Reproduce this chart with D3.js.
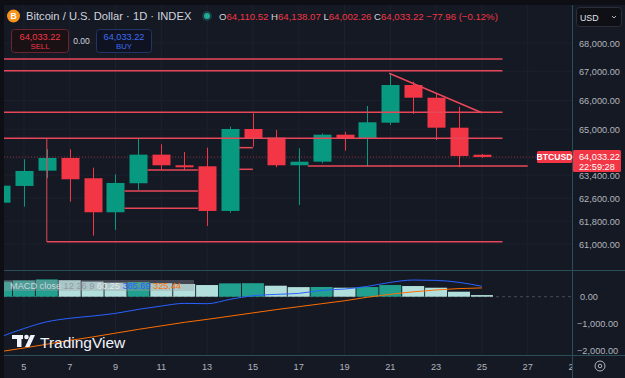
<!DOCTYPE html>
<html>
<head>
<meta charset="utf-8">
<script src="https://cdn.jsdelivr.net/npm/d3@7"></script>
<style>
body { margin: 0; background: #0d0f14; overflow: hidden; }
text { font-family: "Liberation Sans", Arial, sans-serif; }
</style>
</head>
<body>
<div id="chart"></div>
<script>
// daily candles, BTCUSD 1D
var days   = [4, 5, 6, 7, 8, 9, 10, 11, 12, 13, 14, 15, 16, 17, 18, 19, 20, 21, 22, 23, 24, 25];
var opens  = [62442, 63024, 63556, 63998, 63292, 62108, 63118, 64113, 63744, 63709, 62154, 65007, 64704, 63744, 63869, 64809, 64684, 65226, 66538, 66096, 65052, 64110.52];
var highs  = [63250, 63953, 64300, 64301, 63660, 63431, 64659, 64475, 64207, 64357, 65087, 65554, 64972, 64336, 64850, 64913, 65808, 66946, 66653, 66250, 65783, 64138.07];
var lows   = [62300, 62303, 63300, 62477, 61294, 61492, 62884, 63580, 63580, 61632, 62094, 64391, 63674, 62362, 63814, 64252, 63720, 65146, 65529, 64624, 63674, 64002.26];
var closes = [63034, 63546, 63998, 63257, 62108, 63128, 64113, 63744, 63674, 62154, 65007, 64684, 63744, 63869, 64809, 64684, 65240, 66538, 66096, 65052, 64068, 64033.22];

// MACD 12 26 9
var macdLine   = [-1480, -1180, -930, -800, -716, -617, -469, -346, -247, -259, -99, 37, 86, 123, 235, 284, 383, 531, 617, 605, 531, 385.69];
var signalLine = [-2030, -1900, -1760, -1620, -1490, -1350, -1210, -1080, -950, -840, -720, -600, -480, -370, -260, -150, -20, 90, 180, 250, 300, 325.44];
var histValues = [560, 600, 640, 610, 560, 520, 540, 500, 470, 432, 494, 500, 407, 355, 360, 333, 358, 432, 395, 333, 185, 60.25];

// drawn levels (price, from day, to day)
var levelPrices = [67443, 67036, 65588, 64684, 63720, 61085, 63580, 62850, 62250, 64357, 63604];
var levelFrom   = [3.9, 3.9, 3.9, 3.9, 17.4, 6, 10.4, 9.4, 9.4, 14.4, 14.4];
var levelTo     = [25.9, 25.9, 25.9, 25.9, 27, 25.9, 12.6, 12.6, 12.6, 15, 15];
var trendDays   = [20.95, 25];
var trendPrices = [66946, 65574];
var bracketDay  = 6;
var bracketPrices = [64684, 61085];

var priceTicks = [68000, 67000, 66000, 65000, 64000, 63400, 62600, 61800, 61000];
var macdTicks  = [0, -1000, -2000];
var dateTicks  = [5, 7, 9, 11, 13, 15, 17, 19, 21, 23, 25, 27, 29];

var width = 625, height = 378;
var paneLeft = 4, paneRight = 572, paneTop = 5, paneBottom = 270,
	macdTop = 271, macdBottom = 355.5;

var green = "#089981", red = "#f23645", drawColor = "#e8475a",
	axisText = "#b2b5be", sepColor = "#2b4d5a";

var x = d3.scaleLinear().domain([4, 25]).range([1, 481.9]);
var y = d3.scaleLinear().domain([61000, 68000]).range([244.1, 43]);
var m = d3.scaleLinear().domain([-2000, 0]).range([350.7, 296.7]);
var fmt = d3.format(",.2f");

var candles = days.map(function(d, i){
	return {day: d, o: opens[i], h: highs[i], l: lows[i], c: closes[i]};
});
var macd = days.map(function(d, i){
	return {day: d, macd: macdLine[i], signal: signalLine[i], hist: histValues[i],
		rising: i == 0 ? true : histValues[i] >= histValues[i - 1]};
});
var levels = levelPrices.map(function(p, i){
	return {p: p, d0: levelFrom[i], d1: levelTo[i]};
});

var svg = d3.select("#chart").append("svg")
	.attr("width", width)
	.attr("height", height);

svg.append("rect").attr("width", width).attr("height", height).attr("fill", "#0d0f14");
svg.append("rect")
	.attr("x", paneLeft).attr("y", paneTop)
	.attr("width", width - paneLeft).attr("height", height - paneTop)
	.attr("fill", "#151924");

var defs = svg.append("defs");
defs.append("clipPath").attr("id", "mainClip").append("rect")
	.attr("x", paneLeft).attr("y", paneTop)
	.attr("width", paneRight - paneLeft).attr("height", paneBottom - paneTop);
defs.append("clipPath").attr("id", "macdClip").append("rect")
	.attr("x", paneLeft).attr("y", macdTop)
	.attr("width", paneRight - paneLeft).attr("height", macdBottom - macdTop);
defs.append("clipPath").attr("id", "timeClip").append("rect")
	.attr("x", paneLeft).attr("y", macdBottom)
	.attr("width", paneRight - paneLeft).attr("height", height - macdBottom);

var main = svg.append("g").attr("clip-path", "url(#mainClip)");
var lower = svg.append("g").attr("clip-path", "url(#macdClip)");

// grid
main.selectAll(".vgrid").data(dateTicks).enter().append("line")
	.attr("x1", function(d){ return x(d); }).attr("x2", function(d){ return x(d); })
	.attr("y1", paneTop).attr("y2", paneBottom)
	.attr("stroke", "#1c212d");
main.selectAll(".hgrid").data(priceTicks).enter().append("line")
	.attr("x1", paneLeft).attr("x2", paneRight)
	.attr("y1", function(d){ return y(d); }).attr("y2", function(d){ return y(d); })
	.attr("stroke", "#1c212d");
lower.selectAll(".vgrid").data(dateTicks).enter().append("line")
	.attr("x1", function(d){ return x(d); }).attr("x2", function(d){ return x(d); })
	.attr("y1", macdTop).attr("y2", macdBottom)
	.attr("stroke", "#1c212d");

// price line (dotted)
main.append("line")
	.attr("x1", paneLeft).attr("x2", paneRight)
	.attr("y1", y(closes[closes.length - 1])).attr("y2", y(closes[closes.length - 1]))
	.attr("stroke", red).attr("stroke-opacity", 0.55)
	.attr("stroke-dasharray", "1,2");

// candles
var c = main.selectAll(".candle").data(candles).enter().append("g");
c.append("line")
	.attr("x1", function(d){ return Math.round(x(d.day)) + 0.5; })
	.attr("x2", function(d){ return Math.round(x(d.day)) + 0.5; })
	.attr("y1", function(d){ return y(d.h); })
	.attr("y2", function(d){ return y(d.l); })
	.attr("stroke", function(d){ return d.c >= d.o ? green : red; });
c.append("rect")
	.attr("x", function(d){ return Math.round(x(d.day)) - 8.5; })
	.attr("width", 18)
	.attr("y", function(d){ return y(Math.max(d.o, d.c)); })
	.attr("height", function(d){ return Math.max(1.5, Math.abs(y(d.o) - y(d.c))); })
	.attr("fill", function(d){ return d.c >= d.o ? green : red; });

// drawings
main.selectAll(".level").data(levels).enter().append("line")
	.attr("x1", function(d){ return x(d.d0); })
	.attr("x2", function(d){ return x(d.d1); })
	.attr("y1", function(d){ return y(d.p); })
	.attr("y2", function(d){ return y(d.p); })
	.attr("stroke", drawColor).attr("stroke-width", 1.5);
main.append("line")
	.attr("x1", x(trendDays[0])).attr("y1", y(trendPrices[0]))
	.attr("x2", x(trendDays[1])).attr("y2", y(trendPrices[1]))
	.attr("stroke", drawColor).attr("stroke-width", 1.5);
main.append("line")
	.attr("x1", x(bracketDay)).attr("x2", x(bracketDay))
	.attr("y1", y(bracketPrices[0])).attr("y2", y(bracketPrices[1]))
	.attr("stroke", drawColor).attr("stroke-width", 1);

// MACD pane
lower.append("line")
	.attr("x1", paneLeft).attr("x2", paneRight)
	.attr("y1", m(0)).attr("y2", m(0))
	.attr("stroke", "#787b86").attr("stroke-opacity", 0.5)
	.attr("stroke-dasharray", "3,3");
lower.selectAll(".hist").data(macd).enter().append("rect")
	.attr("x", function(d){ return x(d.day) - 11; })
	.attr("width", 22)
	.attr("y", function(d){ return m(Math.max(0, d.hist)); })
	.attr("height", function(d){ return Math.abs(m(d.hist) - m(0)); })
	.attr("fill", function(d){ return d.rising ? "#22a08f" : "#b2dfdb"; });
lower.append("path").datum(macd)
	.attr("fill", "none").attr("stroke", "#2962ff").attr("stroke-width", 1)
	.attr("d", d3.line().curve(d3.curveMonotoneX)
		.x(function(d){ return x(d.day); }).y(function(d){ return m(d.macd); }));
lower.append("path").datum(macd)
	.attr("fill", "none").attr("stroke", "#ff6d00").attr("stroke-width", 1)
	.attr("d", d3.line().curve(d3.curveMonotoneX)
		.x(function(d){ return x(d.day); }).y(function(d){ return m(d.signal); }));

// separators
svg.append("line").attr("x1", paneRight + 0.5).attr("x2", paneRight + 0.5)
	.attr("y1", paneTop).attr("y2", height).attr("stroke", sepColor);
svg.append("line").attr("x1", paneLeft).attr("x2", width)
	.attr("y1", paneBottom + 0.5).attr("y2", paneBottom + 0.5).attr("stroke", sepColor);
svg.append("line").attr("x1", paneLeft).attr("x2", width)
	.attr("y1", macdBottom).attr("y2", macdBottom).attr("stroke", sepColor);

// price axis
svg.selectAll(".ptick").data(priceTicks).enter().append("text")
	.attr("x", 579).attr("y", function(d){ return y(d) + 3.5; })
	.attr("font-size", 9.2).attr("fill", axisText)
	.text(function(d){ return fmt(d); });
svg.selectAll(".mtick").data(macdTicks).enter().append("text")
	.attr("x", function(d){ return d == 0 ? 580 : 577; }).attr("y", function(d){ return m(d) + 3.5; })
	.attr("font-size", 9.2).attr("fill", axisText)
	.text(function(d){ return fmt(d); });

// last price labels (cover the 64,000 tick like the original)
var lastY = y(closes[closes.length - 1]);
svg.append("rect").attr("x", 537).attr("y", lastY - 6).attr("width", 35).attr("height", 12)
	.attr("rx", 1.5).attr("fill", red);
svg.append("text").attr("x", 554.5).attr("y", lastY + 3.2).attr("text-anchor", "middle")
	.attr("font-size", 8.6).attr("font-weight", "bold").attr("fill", "#fff").text("BTCUSD");
svg.append("rect").attr("x", 573).attr("y", lastY - 7).attr("width", 48).attr("height", 22)
	.attr("rx", 1.5).attr("fill", red);
svg.append("text").attr("x", 579).attr("y", lastY + 3.3)
	.attr("font-size", 9.2).attr("fill", "#fff").text(fmt(closes[closes.length - 1]));
svg.append("text").attr("x", 579).attr("y", lastY + 12.8)
	.attr("font-size", 9.2).attr("fill", "#fff").text("22:59:28");

// time axis
svg.append("g").attr("clip-path", "url(#timeClip)")
	.selectAll(".ttick").data(dateTicks).enter().append("text")
	.attr("x", function(d){ return x(d); }).attr("y", 369.5)
	.attr("text-anchor", "middle").attr("font-size", 9.2).attr("fill", axisText)
	.text(function(d){ return d; });
svg.append("circle").attr("cx", 600).attr("cy", 366).attr("r", 5)
	.attr("fill", "none").attr("stroke", axisText).attr("stroke-width", 1);
svg.append("circle").attr("cx", 600).attr("cy", 366).attr("r", 1.8)
	.attr("fill", "none").attr("stroke", axisText).attr("stroke-width", 1);

// MACD legend
svg.append("rect").attr("x", 4).attr("y", 280).attr("width", 190).attr("height", 11)
	.attr("fill", "#9a9ca6").attr("fill-opacity", 0.35);
var ml = svg.append("text").attr("x", 10).attr("y", 288.5).attr("font-size", 9.2);
ml.append("tspan").attr("fill", "#d1d4dc").text("MACD close ");
ml.append("tspan").attr("fill", "#9598a1").text("12 26 9 ");
ml.append("tspan").attr("fill", "#e8e8e8").text(" " + fmt(histValues[histValues.length - 1]) + " ");
ml.append("tspan").attr("fill", "#2962ff").text(" " + fmt(macdLine[macdLine.length - 1]) + " ");
ml.append("tspan").attr("fill", "#ff6d00").text(" " + fmt(signalLine[signalLine.length - 1]));

// TradingView watermark
var logo = svg.append("g").attr("fill", "#f0f3fa");
logo.append("rect").attr("x", 12).attr("y", 335).attr("width", 11).attr("height", 4);
logo.append("rect").attr("x", 17).attr("y", 335).attr("width", 4.5).attr("height", 12);
logo.append("circle").attr("cx", 26.5).attr("cy", 337).attr("r", 2.3);
logo.append("path").attr("d", "M25,347 L30.5,335 L35,335 L29.5,347 Z");
svg.append("text").attr("x", 40).attr("y", 347.5).attr("font-size", 15.5)
	.attr("fill", "#f0f3fa").text("TradingView");

// header
svg.append("circle").attr("cx", 13.5).attr("cy", 16).attr("r", 6.5).attr("fill", "#f7931a");
svg.append("text").attr("x", 13.5).attr("y", 19.3).attr("text-anchor", "middle")
	.attr("font-size", 8.5).attr("font-weight", "bold").attr("fill", "#fff").text("B");
svg.append("text").attr("x", 26).attr("y", 20).attr("font-size", 11.2)
	.attr("fill", "#d1d4dc").text("Bitcoin / U.S. Dollar · 1D · INDEX");
svg.append("circle").attr("cx", 207).attr("cy", 16).attr("r", 5).attr("fill", "#22ab94").attr("fill-opacity", 0.25);
svg.append("circle").attr("cx", 207).attr("cy", 16).attr("r", 3).attr("fill", "#22ab94");
var ohlc = svg.append("text").attr("x", 219).attr("y", 19.5).attr("font-size", 9.6);
[["O", opens], ["H", highs], ["L", lows], ["C", closes]].forEach(function(p, i){
	ohlc.append("tspan").attr("fill", "#d1d4dc").text((i ? " " : "") + p[0]);
	ohlc.append("tspan").attr("fill", red).text(fmt(p[1][p[1].length - 1]));
});
ohlc.append("tspan").attr("fill", red).text(" " + fmt(-77.96) + " (" + fmt(-0.12) + "%)");

// sell / buy
svg.append("rect").attr("x", 11.5).attr("y", 29.5).attr("width", 57).attr("height", 23).attr("rx", 3)
	.attr("fill", "#1a1115").attr("stroke", "#6b2430");
svg.append("text").attr("x", 40).attr("y", 39.5).attr("text-anchor", "middle").attr("font-size", 9.2)
	.attr("fill", red).text(fmt(closes[closes.length - 1]));
svg.append("text").attr("x", 40).attr("y", 49).attr("text-anchor", "middle").attr("font-size", 7.8)
	.attr("fill", red).text("SELL");
svg.append("text").attr("x", 81.5).attr("y", 44).attr("text-anchor", "middle").attr("font-size", 8.5)
	.attr("fill", "#d1d4dc").text("0.00");
svg.append("rect").attr("x", 96.5).attr("y", 29.5).attr("width", 55).attr("height", 23).attr("rx", 3)
	.attr("fill", "#0f1220").attr("stroke", "#233466");
svg.append("text").attr("x", 124).attr("y", 39.5).attr("text-anchor", "middle").attr("font-size", 9.2)
	.attr("fill", "#3d6df2").text(fmt(closes[closes.length - 1]));
svg.append("text").attr("x", 124).attr("y", 49).attr("text-anchor", "middle").attr("font-size", 7.8)
	.attr("fill", "#3d6df2").text("BUY");

// currency selector
svg.append("rect").attr("x", 576.5).attr("y", 7.5).attr("width", 45).attr("height", 19).attr("rx", 3)
	.attr("fill", "#0e1016").attr("stroke", "#2a2e39");
svg.append("text").attr("x", 580).attr("y", 20.5).attr("font-size", 8.8).attr("fill", "#e0e3eb").text("USD");
svg.append("path").attr("d", "M612,16 L614,18 L616,16").attr("fill", "none")
	.attr("stroke", "#b2b5be").attr("stroke-width", 1);
</script>
</body>
</html>
